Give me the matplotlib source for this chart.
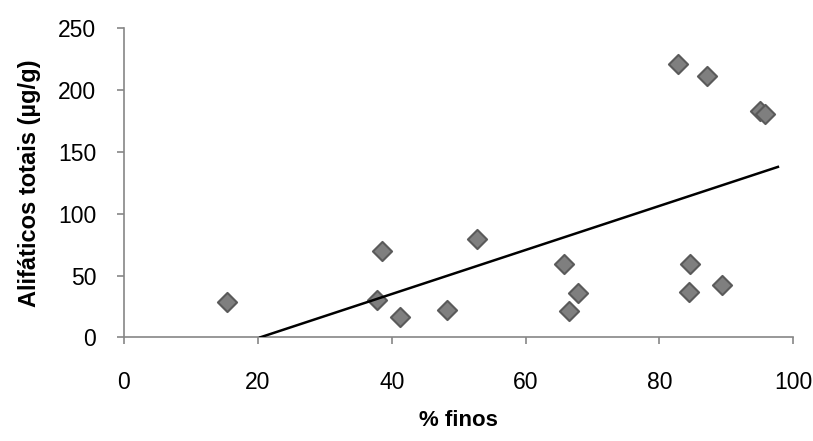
import matplotlib.pyplot as plt
import numpy as np

# % fines vs total aliphatics per sample
finos = [15.4, 37.8, 38.6, 41.2, 48.3, 52.7, 65.8, 66.5, 67.8,
         82.8, 87.1, 95.0, 95.7, 84.5, 84.4, 89.4]
alifaticos = [28.5, 30, 70, 16.5, 22, 79.5, 59, 21, 35.5,
              221, 211.5, 183.5, 180.5, 59, 37, 42]

x_ticks = [0, 20, 40, 60, 80, 100]
y_ticks = [0, 50, 100, 150, 200, 250]

plt.rcParams['font.family'] = ['Liberation Sans', 'DejaVu Sans']

fig = plt.figure(figsize=(8.13, 4.41), dpi=100)
ax = fig.add_axes([0.1525, 0.2351, 0.8233, 0.7007])

ax.scatter(finos, alifaticos, marker='D', s=95, color='#7f7f7f',
           edgecolors='#5a5a5a', linewidths=1.5, zorder=3)

# linear trend, clipped at zero like the spreadsheet version
slope, intercept = np.polyfit(finos, alifaticos, 1)
x0 = max(min(finos), -intercept / slope)
xs = np.array([x0, max(finos) + 2])
ax.plot(xs, slope * xs + intercept, color='black', lw=1.8, zorder=4)

ax.set_xlim(0, 100)
ax.set_ylim(0, 250)
ax.set_xticks(x_ticks)
ax.set_yticks(y_ticks)

for side in ['top', 'right']:
    ax.spines[side].set_visible(False)
for side in ['left', 'bottom']:
    ax.spines[side].set_color('#868686')
    ax.spines[side].set_linewidth(1.2)

ax.tick_params(axis='both', colors='#868686', length=5, width=1.2,
               labelcolor='black', labelsize=16.5)
ax.tick_params(axis='x', pad=19)
ax.tick_params(axis='y', pad=15)

ax.set_xlabel('% finos', fontsize=16, fontweight='bold', labelpad=12)
ax.set_ylabel('Alifáticos totais (µg/g)', fontsize=17, fontweight='bold', labelpad=12)

fig.savefig('out.png', dpi=100)
